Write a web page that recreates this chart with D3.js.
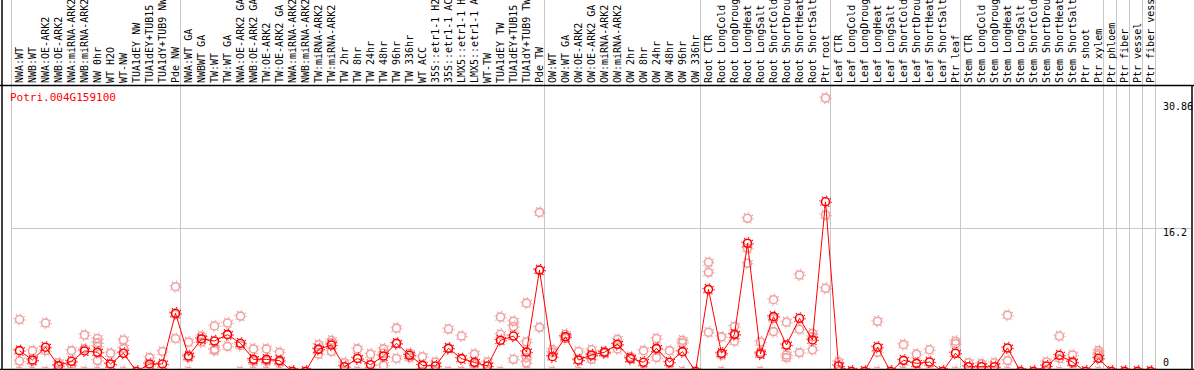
<!DOCTYPE html>
<html>
<head>
<meta charset="utf-8">
<script src="https://cdn.jsdelivr.net/npm/d3@7"></script>
<style>
  body { margin: 0; background: #fff; }
  svg { display: block; }
  text { font-family: "DejaVu Sans Mono", monospace; font-size: 10px; }
</style>
</head>
<body>
<div id="chart"></div>
<script>
// gene being shown
var geneName = "Potri.004G159100";

// sample names, one per column
var samples = [
  "NWA:WT", "NWB:WT", "NWA:OE-ARK2", "NWB:OE-ARK2", "NWA:miRNA-ARK2", "NWB:miRNA-ARK2",
  "NW 0hr", "WT H2O", "WT-NW", "TUA1dEY NW", "TUA1dEY+TUB15 NW", "TUA1dY+TUB9 NW", "Pde NW",
  "NWA:WT GA", "NWBWT GA", "TW:WT", "TW:WT GA", "NWA:OE-ARK2 GA", "NWB:OE-ARK2 GA",
  "TW:OE-ARK2", "TW:OE-ARK2 GA", "NWA:miRNA-ARK2", "NWB:miRNA-ARK2", "TW:miRNA-ARK2",
  "TW:miRNA-ARK2", "TW 2hr", "TW 8hr", "TW 24hr", "TW 48hr", "TW 96hr", "TW 336hr", "WT ACC",
  "35S::etr1-1 H2O", "35S::etr1-1 ACC", "LMX5::etr1-1 H2O", "LMX5::etr1-1 ACC", "WT-TW",
  "TUA1dEY TW", "TUA1dEY+TUB15 TW", "TUA1dY+TUB9 TW", "Pde TW",
  "OW:WT", "OW:WT GA", "OW:OE-ARK2", "OW:OE-ARK2 GA", "OW:miRNA-ARK2", "OW:miRNA-ARK2",
  "OW 2hr", "OW 8hr", "OW 24hr", "OW 48hr", "OW 96hr", "OW 336hr",
  "Root CTR", "Root LongCold", "Root LongDrought", "Root LongHeat", "Root LongSalt",
  "Root ShortCold", "Root ShortDrought", "Root ShortHeat", "Root ShortSalt", "Ptr root",
  "Leaf CTR", "Leaf LongCold", "Leaf LongDrought", "Leaf LongHeat", "Leaf LongSalt",
  "Leaf ShortCold", "Leaf ShortDrought", "Leaf ShortHeat", "Leaf ShortSalt", "Ptr leaf",
  "Stem CTR", "Stem LongCold", "Stem LongDrought", "Stem LongHeat", "Stem LongSalt",
  "Stem ShortCold", "Stem ShortDrought", "Stem ShortHeat", "Stem ShortSalt", "Ptr shoot",
  "Ptr xylem", "Ptr phloem", "Ptr fiber", "Ptr vessel", "Ptr fiber vessel"
];

// column index where each experiment group ends
var groupEnds = [13, 41, 53, 63, 73, 84, 85, 86, 87, 88];

// mean expression per sample
var means = [
  2.35, 1.3, 2.74, 0.66, 1.15, 2.32, 2.17, 0.85, 2.06, 0, 0.85, 0.85, 6.57,
  1.75, 3.67, 3.44, 4.16, 3.18, 1.37, 1.37, 1.23, 0, 0, 2.5, 2.99, 0.54, 1.47, 0.77,
  1.75, 3.18, 1.83, 0.69, 0.62, 2.61, 1.45, 1.03, 0.62, 3.52, 4.0, 2.2, 11.45,
  1.67, 3.92, 1.3, 1.86, 2.17, 3.07, 1.49, 1.04, 2.61, 1.04, 2.24, 0,
  9.27, 2.06, 4.2, 14.47, 1.98, 6.19, 2.99, 6.0, 3.56, 19.15,
  0.62, 0, 0, 2.74, 0, 1.26, 0.92, 1.07, 0, 2.06,
  0.54, 0.54, 0.54, 2.65, 0, 0, 0.62, 1.83, 1.07, 0, 1.49,
  0, 0, 0, 0
];

// replicate values per sample
var replicates = [
  [5.86, 1.18, 0], [2.35, 1.18, 0], [5.47, 2.35, 0], [0.99, 0.6, 0], [2.35, 0.69, 0],
  [4.12, 2.55, 0], [3.72, 3.23, 2.84, 1.23, 0], [2.06, 0.79, 0], [3.56, 2.61, 0], [0, 0, 0],
  [1.57, 0.6, 0], [2.25, 0, 0], [9.57, 6.45, 3.72],
  [3.33, 1.57, 0], [4.0, 3.72, 3.33], [5.14, 2.51, 2.35], [5.47, 4.2, 2.84], [6.25, 2.94, 0],
  [2.55, 1.18, 0], [2.55, 1.18, 0], [2.16, 1.08, 0], [0, 0, 0], [0, 0, 0],
  [3.03, 2.55, 1.96], [3.52, 3.23, 2.25], [0.99, 0, 0], [2.55, 1.47, 0], [1.96, 0, 0],
  [2.55, 2.06, 0.69], [4.89, 3.13, 1.47], [2.06, 1.86, 1.57], [1.67, 0, 0], [1.08, 0, 0],
  [4.79, 2.64, 0], [4.0, 0, 0], [1.96, 0.79, 0], [1.08, 0, 0], [6.15, 4.2, 0],
  [5.67, 5.08, 1.38], [7.71, 3.33, 1.57, 0.99, 0], [17.95, 11.42, 4.98],
  [2.45, 2.16, 0], [4.2, 3.91, 3.72], [2.25, 1.28, 0], [2.45, 1.77, 1.38], [2.25, 2.16, 2.06],
  [3.62, 3.03, 2.55], [1.67, 1.47, 1.38], [2.35, 0, 0], [3.72, 2.55, 1.57], [2.35, 0, 0],
  [3.52, 3.23, 0], [0, 0, 0],
  [12.32, 11.19, 4.43], [3.91, 1.86, 0], [5.08, 4.1, 3.42], [17.29, 13.9, 12.21],
  [3.33, 2.16, 0], [8.1, 5.96, 4.5], [5.57, 1.86, 1.57], [10.89, 4.76, 2.13],
  [4.3, 3.91, 2.45], [30.86, 17.66, 9.39],
  [1.08, 0, 0], [0, 0, 0], [0, 0, 0], [5.67, 2.16, 0], [0, 0, 0], [3.03, 0, 0],
  [1.96, 0, 0], [2.45, 0, 0], [0, 0, 0], [3.42, 3.13, 0],
  [0.99, 0, 0], [0.89, 0, 0], [0.99, 0, 0], [6.35, 1.23, 0], [0, 0, 0], [0, 0, 0],
  [1.08, 0, 0], [4.0, 1.47, 0], [1.86, 0.99, 0], [0, 0, 0], [2.35, 2.06, 1.86, 0],
  [0, 0, 0], [0, 0, 0], [0, 0, 0], [0, 0, 0]
];

// y axis labels
var yTicks = [0, 16.2, 30.86];

var width = 1194, height = 370;
var plotLeft = 11, plotRight = 1155, headerBottom = 85, plotBottom = 369;

var svg = d3.select("#chart").append("svg")
    .attr("width", width).attr("height", height);

var x = d3.scaleBand()
    .domain(d3.range(samples.length))
    .range([plotLeft, plotRight]);
var cx = function(i) { return x(i) + 8.5; };

var y = d3.scaleLinear()
    .domain([0, d3.max(yTicks)])
    .range([371.5, 98]);

svg.append("clipPath").attr("id", "plotclip")
  .append("rect")
    .attr("x", plotLeft).attr("y", headerBottom + 1)
    .attr("width", width - plotLeft - 2).attr("height", plotBottom - headerBottom - 1);

// horizontal grid line (skip top and bottom)
svg.selectAll("line.hgrid")
    .data(yTicks.filter(function(t) { return t > 0 && t < d3.max(yTicks); }))
  .enter().append("line")
    .attr("class", "hgrid")
    .attr("x1", plotLeft).attr("x2", width - 2)
    .attr("y1", function(d) { return Math.round(y(d)) + 0.5; })
    .attr("y2", function(d) { return Math.round(y(d)) + 0.5; })
    .attr("stroke", "#c8c8c8");

// group separators, full height incl. label area
svg.selectAll("line.vgrid")
    .data([0].concat(groupEnds))
  .enter().append("line")
    .attr("class", "vgrid")
    .attr("x1", function(d) { return x.step() * d + plotLeft + 0.5; })
    .attr("x2", function(d) { return x.step() * d + plotLeft + 0.5; })
    .attr("y1", 0).attr("y2", plotBottom)
    .attr("stroke", "#c8c8c8");

// sample labels, rotated
svg.selectAll("text.sample")
    .data(samples)
  .enter().append("text")
    .attr("class", "sample")
    .attr("transform", function(d, i) { return "translate(" + cx(i) + "," + (headerBottom - 2) + ") rotate(-90)"; })
    .attr("dy", "0.35em")
    .attr("fill", "#000")
    .text(function(d) { return d.slice(0, 14); });

// frame
var frame = svg.append("g").attr("stroke", "#000").attr("stroke-width", 1.5);
frame.append("line").attr("x1", 0).attr("x2", width).attr("y1", headerBottom + 0.5).attr("y2", headerBottom + 0.5);
frame.append("line").attr("x1", 0).attr("x2", width).attr("y1", plotBottom + 0.5).attr("y2", plotBottom + 0.5);
frame.append("line").attr("x1", 2).attr("x2", 2).attr("y1", 0).attr("y2", height);
frame.append("line").attr("x1", width - 2).attr("x2", width - 2).attr("y1", headerBottom).attr("y2", height);

// gene name
svg.append("text")
    .attr("x", 10).attr("y", 101)
    .attr("fill", "#f00")
    .style("font-size", "11px")
    .text(geneName);

// y labels
svg.selectAll("text.ylab")
    .data(yTicks)
  .enter().append("text")
    .attr("class", "ylab")
    .attr("x", 1163)
    .attr("y", function(d) { return Math.max(110, Math.min(366, y(d) + 8)); })
    .attr("fill", "#000")
    .text(function(d) { return d; });

var plot = svg.append("g").attr("clip-path", "url(#plotclip)");

function marker(sel, color) {
    sel.append("circle").attr("r", 4)
        .attr("fill", "none").attr("stroke", color).attr("stroke-width", 1.6);
    sel.append("circle").attr("r", 5.6)
        .attr("fill", "none").attr("stroke", color).attr("stroke-width", 1.2)
        .attr("stroke-dasharray", "1.1 3.3");
}

// replicates
var reps = [];
replicates.forEach(function(r, i) { r.forEach(function(v) { reps.push({i: i, v: v}); }); });
plot.selectAll("g.rep")
    .data(reps)
  .enter().append("g")
    .attr("class", "rep")
    .attr("transform", function(d) { return "translate(" + cx(d.i) + "," + y(d.v) + ")"; })
    .call(marker, "#f0a0a0");

// mean line
plot.append("path")
    .datum(means)
    .attr("fill", "none")
    .attr("stroke", "#f00")
    .attr("stroke-width", 1)
    .attr("d", d3.line().x(function(d, i) { return cx(i); }).y(function(d) { return y(d); }));

// means
plot.selectAll("g.mean")
    .data(means)
  .enter().append("g")
    .attr("class", "mean")
    .attr("transform", function(d, i) { return "translate(" + cx(i) + "," + y(d) + ")"; })
    .call(marker, "#f00");
</script>
</body>
</html>
